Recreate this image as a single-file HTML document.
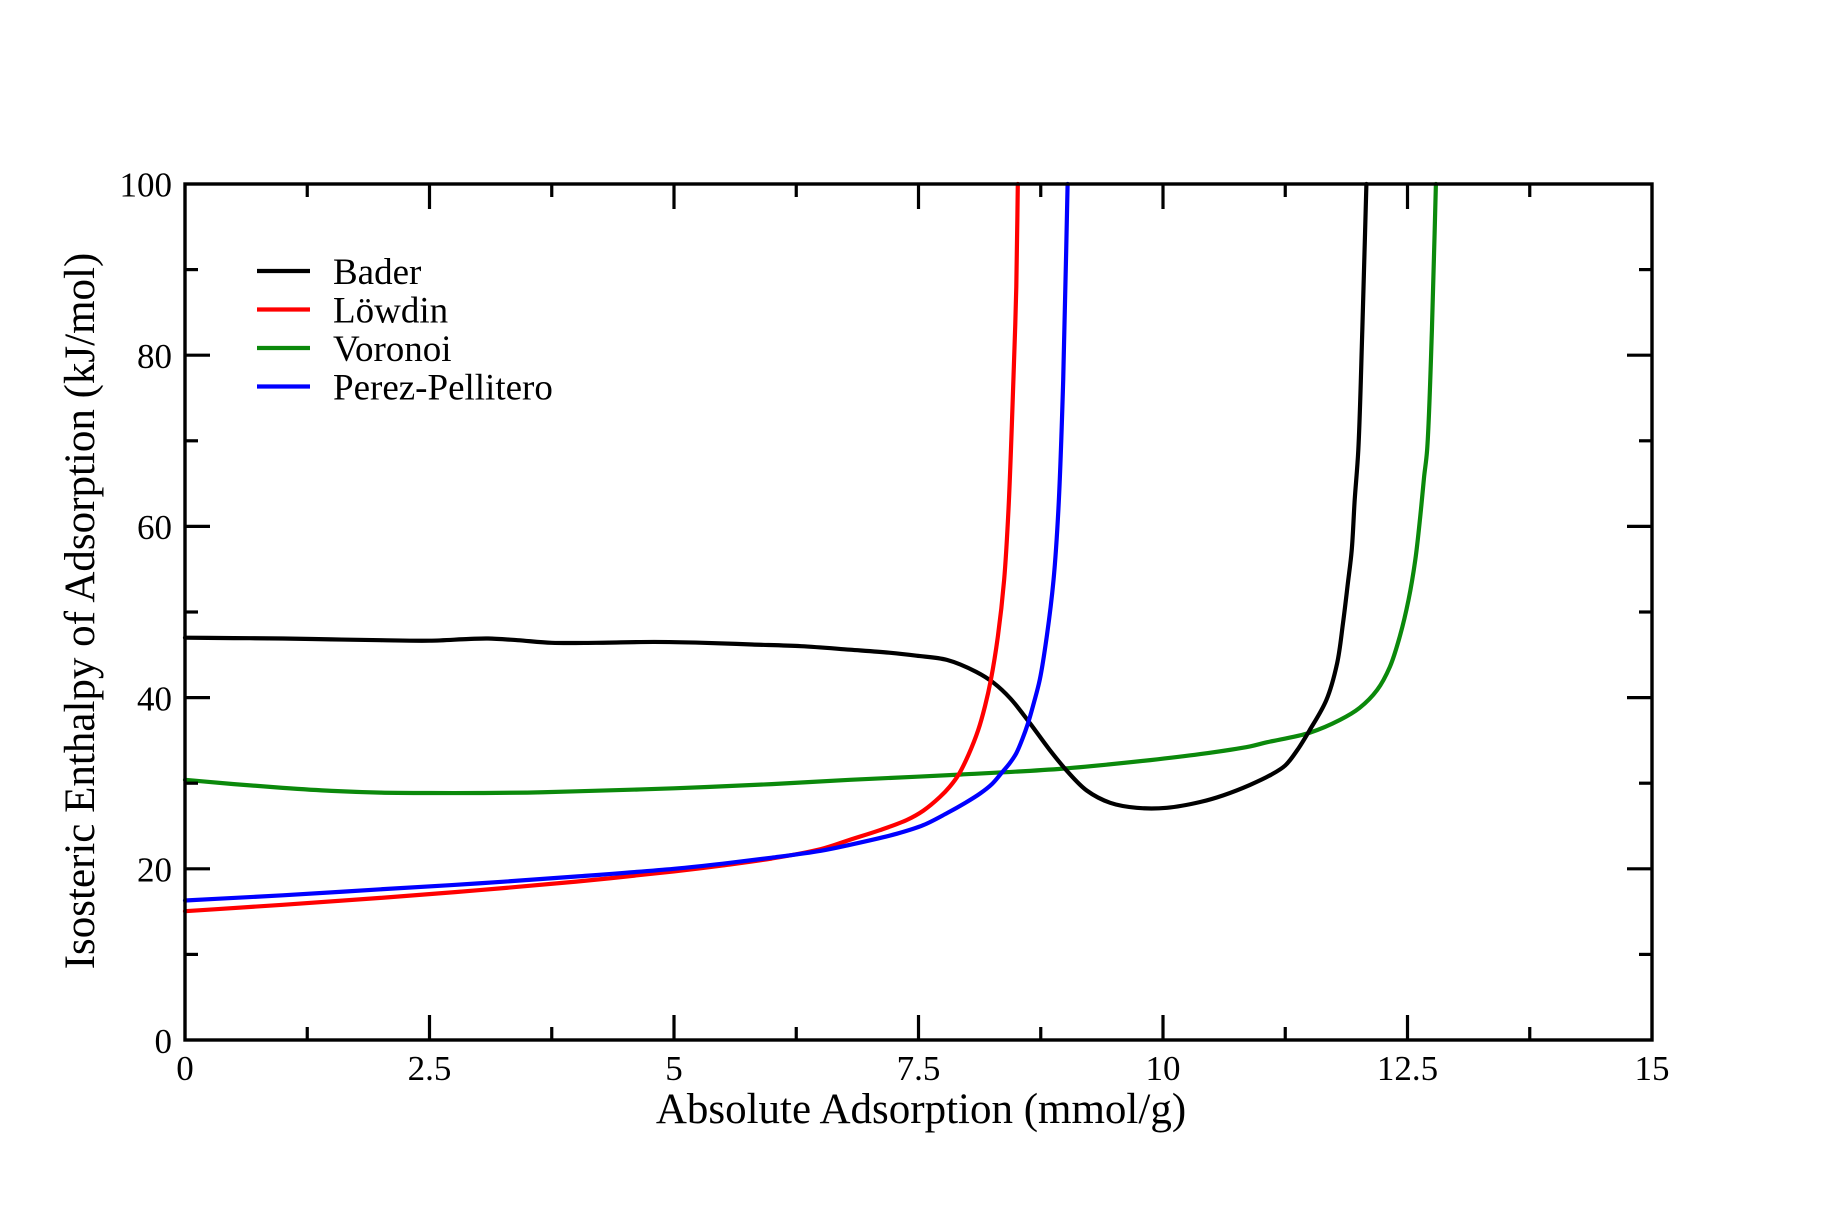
<!DOCTYPE html>
<html>
<head>
<meta charset="utf-8">
<style>
  html, body { margin: 0; padding: 0; background: #ffffff; }
  svg { display: block; }
  text { font-family: "Liberation Serif", "Times New Roman", serif; fill: #000; }
</style>
</head>
<body>
<svg id="chart" width="1836" height="1224" viewBox="0 0 1836 1224" xmlns="http://www.w3.org/2000/svg">
  <rect x="0" y="0" width="1836" height="1224" fill="#ffffff"/>

  <!-- Curves -->
  <g id="curves" fill="none" stroke-width="4.2" stroke-linejoin="round" stroke-linecap="round">
    <!-- Voronoi (green) -->
    <polyline stroke="#0b890b" points="185,779.8 233.9,784.1 282.8,787.9 331.7,790.9 380.6,792.6 429.5,793.0 478.4,793.0 527.3,792.6 576.2,791.3 674,788.3 771.8,784.1 850,779.8 959.6,774.6 1063.2,768.6 1150.3,760.1 1200.2,754.1 1250,746.4 1266.7,742.3 1309.7,732.7 1340.0,719.9 1359.6,707.9 1377.2,689.9 1389.9,666.8 1399.7,636.8 1408.5,600.0 1415.3,559.8 1420.2,517.0 1424.1,476.8 1427.1,450.2 1431.9,330.4 1435.9,184"/>
    <!-- Bader (black) -->
    <polyline stroke="#000000" points="185,637.7 233.9,638.1 282.8,638.5 331.7,639.4 380.6,640.2 429.5,640.7 468.6,639.0 488.2,638.5 517.5,640.2 551.8,642.8 595.8,642.8 654.4,641.96 703.3,642.8 752.2,644.5 801.1,646.2 850,649.7 889.2,652.7 916.5,655.7 946.9,659.9 976.2,671.9 993.8,683.0 1010.4,698.5 1030.0,723.3 1049.6,749.8 1067.2,771.2 1086.7,790.5 1110.2,802.8 1136.6,807.8 1166.9,807.8 1200.2,802.0 1223.6,795.2 1250.0,784.9 1270.6,775.0 1285.2,765.5 1297.0,750.5 1309.7,730.1 1326.3,700.2 1337.1,663.4 1343.0,623.1 1347.8,583.8 1351.7,550.4 1354.7,499.9 1358.3,450.2 1362.3,330.4 1366.4,184"/>
    <!-- Löwdin (red) -->
    <polyline stroke="#ff0000" points="185,911.2 282.8,904.8 380.6,897.9 478.4,890.2 576.2,881.6 674,871.4 722.9,865.4 771.8,858.5 820.7,849.1 850,839.7 879.4,830.3 906.8,820.0 923.4,810.6 940.0,796.9 949.8,786.6 958.6,774.6 968.4,755.0 978.2,730.1 985.0,706.2 990.9,679.6 997.7,637.7 1004.1,580.3 1008.5,509.3 1013.4,380.0 1016.3,286.7 1017.8,184"/>
    <!-- Perez-Pellitero (blue) -->
    <polyline stroke="#0000ff" points="185,900.5 282.8,895.3 380.6,889.3 478.4,883.4 576.2,876.5 674,868.8 722.9,863.7 771.8,857.7 820.7,850.8 850,844.8 897.0,833.7 923.4,825.1 946.9,813.2 965.4,802.8 980.1,793.5 991.9,784.1 1001.6,772.9 1009.5,763.5 1016.3,753.2 1022.2,739.5 1028.0,723.3 1033.9,702.7 1039.8,679.6 1046.6,637.7 1053.5,580.3 1058.4,509.3 1063.2,380.0 1067.6,184"/>
  </g>

  <!-- Frame -->
  <rect x="185" y="184" width="1467" height="856" fill="none" stroke="#000" stroke-width="3.4"/>

  <!-- Ticks -->
  <g stroke="#000" stroke-width="3.2">
    <line x1="429.5" y1="1040" x2="429.5" y2="1015"/><line x1="429.5" y1="184" x2="429.5" y2="209"/>
    <line x1="674" y1="1040" x2="674" y2="1015"/><line x1="674" y1="184" x2="674" y2="209"/>
    <line x1="918.5" y1="1040" x2="918.5" y2="1015"/><line x1="918.5" y1="184" x2="918.5" y2="209"/>
    <line x1="1163" y1="1040" x2="1163" y2="1015"/><line x1="1163" y1="184" x2="1163" y2="209"/>
    <line x1="1407.5" y1="1040" x2="1407.5" y2="1015"/><line x1="1407.5" y1="184" x2="1407.5" y2="209"/>
    <line x1="307.25" y1="1040" x2="307.25" y2="1027"/><line x1="307.25" y1="184" x2="307.25" y2="197"/>
    <line x1="551.75" y1="1040" x2="551.75" y2="1027"/><line x1="551.75" y1="184" x2="551.75" y2="197"/>
    <line x1="796.25" y1="1040" x2="796.25" y2="1027"/><line x1="796.25" y1="184" x2="796.25" y2="197"/>
    <line x1="1040.75" y1="1040" x2="1040.75" y2="1027"/><line x1="1040.75" y1="184" x2="1040.75" y2="197"/>
    <line x1="1285.25" y1="1040" x2="1285.25" y2="1027"/><line x1="1285.25" y1="184" x2="1285.25" y2="197"/>
    <line x1="1529.75" y1="1040" x2="1529.75" y2="1027"/><line x1="1529.75" y1="184" x2="1529.75" y2="197"/>
    <line x1="185" y1="868.8" x2="210" y2="868.8"/><line x1="1652" y1="868.8" x2="1627" y2="868.8"/>
    <line x1="185" y1="697.6" x2="210" y2="697.6"/><line x1="1652" y1="697.6" x2="1627" y2="697.6"/>
    <line x1="185" y1="526.4" x2="210" y2="526.4"/><line x1="1652" y1="526.4" x2="1627" y2="526.4"/>
    <line x1="185" y1="355.2" x2="210" y2="355.2"/><line x1="1652" y1="355.2" x2="1627" y2="355.2"/>
    <line x1="185" y1="954.4" x2="198" y2="954.4"/><line x1="1652" y1="954.4" x2="1639" y2="954.4"/>
    <line x1="185" y1="783.2" x2="198" y2="783.2"/><line x1="1652" y1="783.2" x2="1639" y2="783.2"/>
    <line x1="185" y1="612" x2="198" y2="612"/><line x1="1652" y1="612" x2="1639" y2="612"/>
    <line x1="185" y1="440.8" x2="198" y2="440.8"/><line x1="1652" y1="440.8" x2="1639" y2="440.8"/>
    <line x1="185" y1="269.6" x2="198" y2="269.6"/><line x1="1652" y1="269.6" x2="1639" y2="269.6"/>
  </g>

  <!-- Y tick labels -->
  <g font-size="35" text-anchor="end">
    <text x="172" y="1053">0</text>
    <text x="172" y="881.5">20</text>
    <text x="172" y="710.3">40</text>
    <text x="172" y="539.1">60</text>
    <text x="172" y="367.9">80</text>
    <text x="172" y="196.7">100</text>
  </g>

  <!-- X tick labels -->
  <g font-size="35" text-anchor="middle">
    <text x="185" y="1080">0</text>
    <text x="429.5" y="1080">2.5</text>
    <text x="674" y="1080">5</text>
    <text x="918.5" y="1080">7.5</text>
    <text x="1163" y="1080">10</text>
    <text x="1407.5" y="1080">12.5</text>
    <text x="1652" y="1080">15</text>
  </g>

  <!-- Axis labels -->
  <text x="921" y="1123" font-size="43" text-anchor="middle">Absolute Adsorption (mmol/g)</text>
  <text x="0" y="0" font-size="43" text-anchor="middle" transform="translate(94,611) rotate(-90)">Isosteric Enthalpy of Adsorption (kJ/mol)</text>

  <!-- Legend -->
  <g stroke-width="4.2">
    <line x1="257" y1="271" x2="310" y2="271" stroke="#000000"/>
    <line x1="257" y1="309.5" x2="310" y2="309.5" stroke="#ff0000"/>
    <line x1="257" y1="348" x2="310" y2="348" stroke="#0b890b"/>
    <line x1="257" y1="386.5" x2="310" y2="386.5" stroke="#0000ff"/>
  </g>
  <g font-size="37">
    <text x="333" y="284">Bader</text>
    <text x="333" y="322.5">Löwdin</text>
    <text x="333" y="361">Voronoi</text>
    <text x="333" y="399.5">Perez-Pellitero</text>
  </g>
</svg>
<script>
(function(){
  var NS = "http://www.w3.org/2000/svg";
  var g = document.getElementById("curves");
  var pls = g.querySelectorAll("polyline");
  for (var k = 0; k < pls.length; k++) {
    var pl = pls[k];
    var raw = pl.getAttribute("points").trim().split(/\s+/);
    var P = raw.map(function(s){ var a = s.split(","); return [parseFloat(a[0]), parseFloat(a[1])]; });
    var n = P.length;
    var d = "M" + P[0][0] + "," + P[0][1];
    for (var i = 0; i < n - 1; i++) {
      var p0 = P[i > 0 ? i - 1 : i], p1 = P[i], p2 = P[i + 1], p3 = P[i + 2 < n ? i + 2 : i + 1];
      var d1 = Math.pow(Math.hypot(p1[0]-p0[0], p1[1]-p0[1]), 0.5);
      var d2 = Math.pow(Math.hypot(p2[0]-p1[0], p2[1]-p1[1]), 0.5);
      var d3 = Math.pow(Math.hypot(p3[0]-p2[0], p3[1]-p2[1]), 0.5);
      var c1, c2;
      if (d1 < 1e-6) { c1 = [p1[0] + (p2[0]-p1[0])/3, p1[1] + (p2[1]-p1[1])/3]; }
      else {
        var a = d1*d1, b = d2*d2, m = 2*a + 3*d1*d2 + b, den = 3*d1*(d1+d2);
        c1 = [(a*p2[0] - b*p0[0] + m*p1[0]) / den, (a*p2[1] - b*p0[1] + m*p1[1]) / den];
      }
      if (d3 < 1e-6) { c2 = [p2[0] - (p2[0]-p1[0])/3, p2[1] - (p2[1]-p1[1])/3]; }
      else {
        var a3 = d3*d3, b2 = d2*d2, m2 = 2*a3 + 3*d3*d2 + b2, den2 = 3*d3*(d3+d2);
        c2 = [(a3*p1[0] - b2*p3[0] + m2*p2[0]) / den2, (a3*p1[1] - b2*p3[1] + m2*p2[1]) / den2];
      }
      d += " C" + c1[0].toFixed(2) + "," + c1[1].toFixed(2) + " " + c2[0].toFixed(2) + "," + c2[1].toFixed(2) + " " + p2[0] + "," + p2[1];
    }
    var path = document.createElementNS(NS, "path");
    path.setAttribute("d", d);
    path.setAttribute("stroke", pl.getAttribute("stroke"));
    g.replaceChild(path, pl);
  }
})();
</script>
</body>
</html>
